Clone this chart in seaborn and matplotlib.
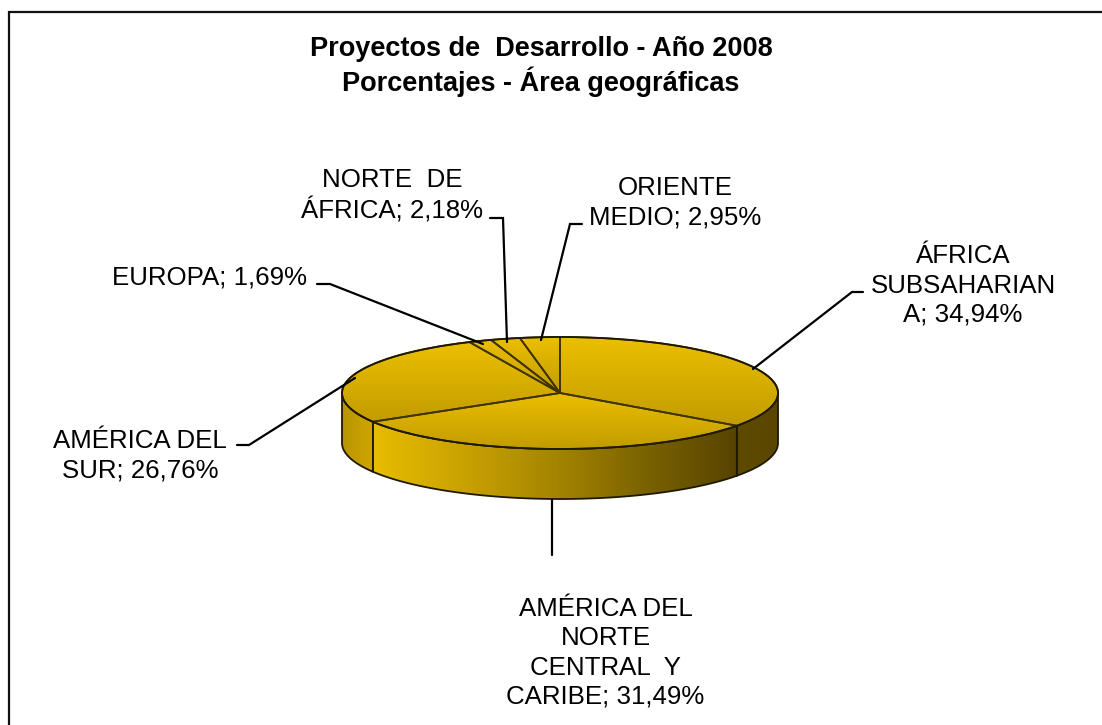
import numpy as np
import matplotlib
matplotlib.use("Agg")
import matplotlib.pyplot as plt
from matplotlib.patches import Polygon
import seaborn as sns

# Data
areas = ["ÁFRICA\nSUBSAHARIAN\nA; 34,94%",
         "AMÉRICA DEL\nNORTE\nCENTRAL  Y\nCARIBE; 31,49%",
         "AMÉRICA DEL\nSUR; 26,76%",
         "EUROPA; 1,69%",
         "NORTE  DE\nÁFRICA; 2,18%",
         "ORIENTE\nMEDIO; 2,95%"]
percent = [34.94, 31.49, 26.76, 1.69, 2.18, 2.95]
title_lines = "Proyectos de  Desarrollo - Año 2008\nPorcentajes - Área geográficas"

sns.set_theme(style="white")
plt.rcParams["font.family"] = ["Liberation Sans", "DejaVu Sans"]

W, H = 1102, 725
fig = plt.figure(figsize=(W / 100, H / 100), dpi=100, facecolor="white")

# overlay in pixel coords for frame, title, labels
bg = fig.add_axes([0, 0, 1, 1])
bg.set_xlim(0, W)
bg.set_ylim(H, 0)
bg.axis("off")
bg.plot([8.5, 8.5, W], [H, 12, 12], color="#111111", lw=1.6, solid_joinstyle="miter")

bg.text(541, 66.5, title_lines, ha="center", va="center", fontsize=19.5,
        fontweight="bold", color="black", linespacing=1.22)

# pie axes: bounding box of the top ellipse plus the wall below it
cx, cy, rx, ry, depth = 560, 393, 218, 56, 50
d = depth / ry
ax = fig.add_axes([(cx - rx) / W, 1 - (cy + ry + depth) / H, 2 * rx / W, (2 * ry + depth) / H])
wedges, _ = ax.pie(percent, startangle=90, counterclock=False, radius=1, center=(0, 0),
                   wedgeprops=dict(facecolor="none", edgecolor="#3f3300", linewidth=1.3))
ax.set_aspect("auto")
ax.axis("off")

top_cmap = sns.blend_palette(["#ecbf00", "#c29c00"], as_cmap=True)
outline = "#1f1900"

# gradient on each top slice
grad_v = np.linspace(0, 1, 256).reshape(-1, 1)
for w in wedges:
    w.set_zorder(4)
    verts = w.get_path().transformed(w.get_patch_transform()).vertices
    im = ax.imshow(grad_v, cmap=top_cmap, aspect="auto", zorder=3, origin="upper",
                   extent=[verts[:, 0].min(), verts[:, 0].max(), verts[:, 1].min(), verts[:, 1].max()])
    im.set_clip_path(w)

# side wall, front half only
edges = np.cumsum([0] + percent) / sum(percent) * 360
wall_colors = [["#5f4a00", "#5a4600"],
               ["#e8bc00", "#c9a200", "#a58500", "#7a6200", "#574400"],
               ["#b89400", "#cfa600"]]
grad_h = np.linspace(0, 1, 256).reshape(1, -1)
for i, colors in enumerate(wall_colors):
    a0, a1 = max(edges[i], 90), min(edges[i + 1], 270)
    t = np.radians(np.linspace(a0, a1, 200))
    x, y = np.sin(t), np.cos(t)
    pts = np.r_[np.c_[x, y], np.c_[x, y - d][::-1]]
    cmap = sns.blend_palette(colors, as_cmap=True)
    im = ax.imshow(grad_h, cmap=cmap, aspect="auto", zorder=1,
                   extent=[x.min(), x.max(), (y - d).min(), y.max()])
    poly = Polygon(pts, closed=True, facecolor="none", edgecolor=outline, lw=1.3, zorder=2,
                   clip_on=False)
    ax.add_patch(poly)
    im.set_clip_path(poly)
ax.set_xlim(-1, 1)
ax.set_ylim(-1 - d, 1)

# top-face outline
t = np.linspace(0, 2 * np.pi, 400)
ax.plot(np.sin(t), np.cos(t), color=outline, lw=1.3, zorder=5, clip_on=False)

# labels and leader lines, pixel coords
label_pos = [(963, 285.5), (605.5, 653), (140, 456), (209, 277), (392, 196), (675, 203)]
leaders = [[(863, 292), (852, 292), (753, 369)],
           [(552, 555), (552, 500)],
           [(237, 445), (249, 445), (355, 378)],
           [(317, 284), (330, 284), (483, 344)],
           [(490, 218), (503, 218), (507, 342)],
           [(582, 224), (570, 224), (541, 340)]]
top = fig.add_axes([0, 0, 1, 1], facecolor="none")
top.set_xlim(0, W)
top.set_ylim(H, 0)
top.axis("off")
for name, (lx, ly), line in zip(areas, label_pos, leaders):
    top.text(lx, ly, name, ha="center", va="center", fontsize=18.6, color="black", linespacing=1.27)
    top.plot(*zip(*line), color="black", lw=1.6, solid_joinstyle="miter")

fig.savefig("out.png", dpi=100, facecolor="white")
